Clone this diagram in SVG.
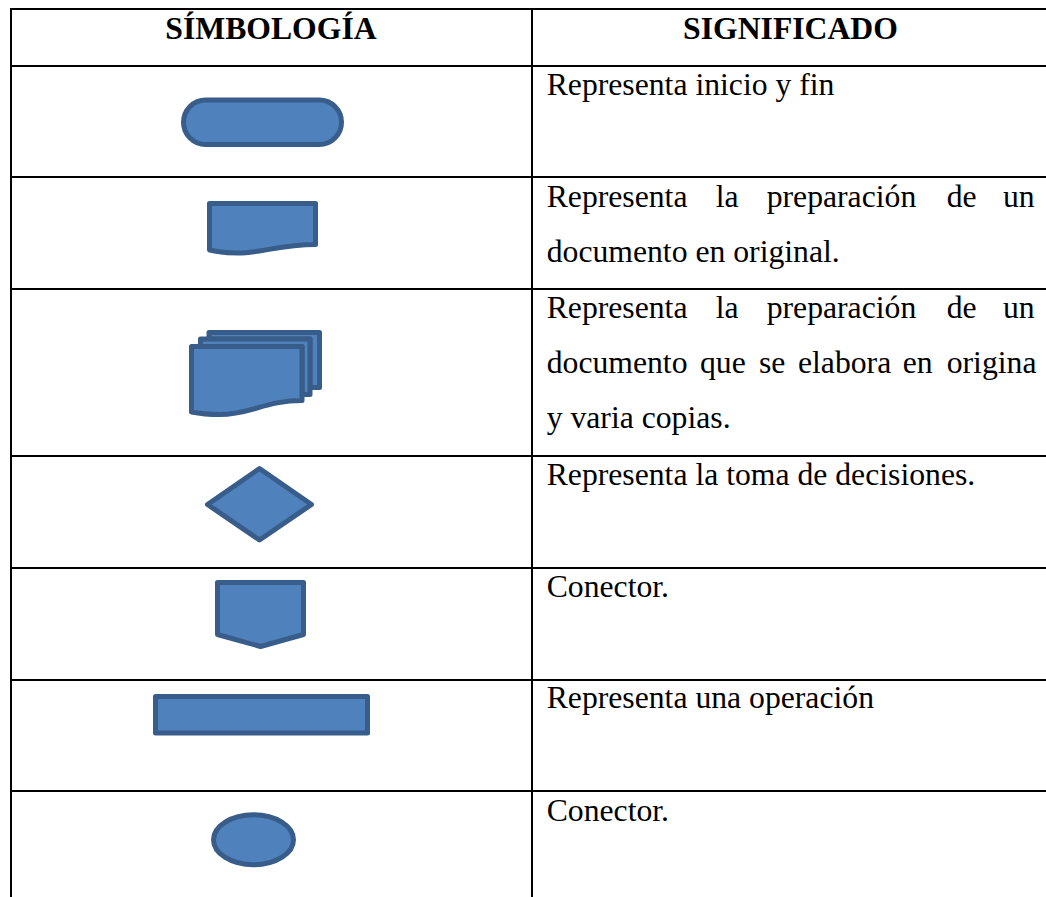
<svg xmlns="http://www.w3.org/2000/svg" width="1046" height="897" viewBox="0 0 1046 897">
<style>
.l{stroke:#000;stroke-width:2;fill:none}
.s{fill:#4f81bd;stroke:#385d8a;stroke-width:5;stroke-linejoin:round}
text{font-family:"Liberation Serif","Times New Roman",serif;font-size:31.7px;fill:#000}
.h{font-weight:bold;text-anchor:middle}
</style>
<rect width="1046" height="897" fill="#fff"/>
<g id="table-lines">
<path class="l" d="M10 9H1046M10 66H1046M10 177H1046M10 289H1046M10 456H1046M10 568H1046M10 680H1046M10 791H1046"/>
<path class="l" d="M11 8V897M532 8V897"/>
</g>
<g id="header"><text class="h" x="271" y="39">SÍMBOLOGÍA</text><text class="h" x="790.500" y="39">SIGNIFICADO</text></g>
<g id="terminal"><rect class="s" x="183.500" y="100" width="158" height="44.500" rx="22.250"/></g>
<g id="document"><path class="s" d="M209.500 203.500H315.500V244.500C280 244.500 262 253 238 253C228 253 218 252 209.500 250Z"/></g>
<g id="multidocument">
<path class="s" d="M209 332.500H319.500V387.500H310V339H209Z"/>
<path class="s" d="M200.500 339H310V394.500H302V346.500H200.500Z"/>
<path class="s" d="M191.500 346.500H302V400.500C266 400.500 250 414.500 220 414.500C209 414.500 199 413.500 191.500 412Z"/>
</g>
<g id="decision"><path class="s" d="M259.500 468.500L311.500 504.500L259.500 540L207.500 504.500Z"/></g>
<g id="offpage"><path class="s" d="M217.500 582.500H303.500V634.500L260.500 646.500L217.500 634.500Z"/></g>
<g id="process"><rect class="s" x="155.500" y="696.500" width="212" height="36.500"/></g>
<g id="connector"><ellipse class="s" cx="253.500" cy="839.800" rx="40" ry="25"/></g>
<g id="meaning">
<text x="546.700" y="95">Representa inicio y fin</text>
<text x="546.700" y="207">Representa</text><text x="715.700" y="207">la</text><text x="766.700" y="207">preparación</text><text x="946.700" y="207">de</text><text x="1003" y="207">un</text>
<text x="546.700" y="262">documento en original.</text>
<text x="546.700" y="318">Representa</text><text x="715.700" y="318">la</text><text x="766.700" y="318">preparación</text><text x="946.700" y="318">de</text><text x="1003" y="318">un</text>
<text x="546.700" y="373">documento</text><text x="700" y="373">que</text><text x="759" y="373">se</text><text x="798" y="373">elabora</text><text x="902.700" y="373">en</text><text x="946.700" y="373">origina</text>
<text x="546.700" y="428">y varia copias.</text>
<text x="546.700" y="485">Representa la toma de decisiones.</text>
<text x="546.700" y="597">Conector.</text>
<text x="546.700" y="708">Representa una operación</text>
<text x="546.700" y="821">Conector.</text>
</g>
</svg>
